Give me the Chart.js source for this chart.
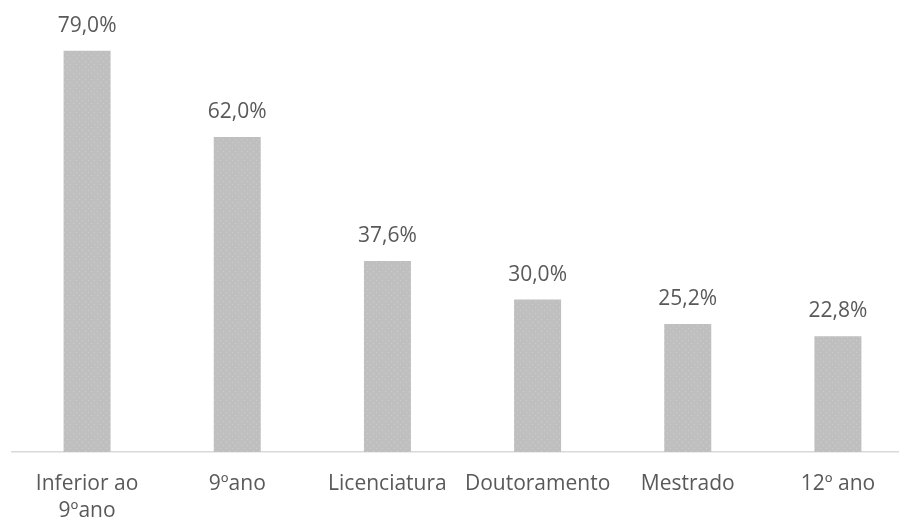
<!DOCTYPE html>
<html>
<head>
<meta charset="utf-8">
<script src="https://cdn.jsdelivr.net/npm/chart.js@4"></script>
<style>
  html, body { margin: 0; padding: 0; background: #fff; overflow: hidden; }
  #wrap { width: 913px; height: 520px; }
</style>
</head>
<body>
<div id="wrap"><canvas id="myChart" width="913" height="520"></canvas></div>
<script>
const categories = [['Inferior ao', '9ºano'], '9ºano', 'Licenciatura', 'Doutoramento', 'Mestrado', '12º ano'];
const values = [79.0, 62.0, 37.6, 30.0, 25.2, 22.8];

function dotPattern() {
    const c = document.createElement('canvas');
    c.width = 6;
    c.height = 6;
    const g = c.getContext('2d');
    g.fillStyle = '#bfbfbf';
    g.fillRect(0, 0, 6, 6);
    g.fillStyle = '#cdcdcd';
    g.fillRect(1, 1, 1, 1);
    g.fillRect(4, 4, 1, 1);
    return g.createPattern(c, 'repeat');
}

const valueLabels = {
    id: 'valueLabels',
    afterDatasetsDraw(chart) {
        const ctx = chart.ctx;
        const meta = chart.getDatasetMeta(0);
        ctx.save();
        ctx.font = '21px "Open Sans", sans-serif';
        ctx.fillStyle = '#595959';
        ctx.textAlign = 'center';
        ctx.textBaseline = 'middle';
        meta.data.forEach((bar, i) => {
            ctx.fillText(values[i].toFixed(1).replace('.', ',') + '%', bar.x, bar.y - 25);
        });
        ctx.restore();
    }
};

function renderChart() {
    const ctx = document.getElementById('myChart');
    new Chart(ctx, {
        type: 'bar',
        data: {
            labels: categories,
            datasets: [{
                data: values,
                backgroundColor: dotPattern(),
                borderWidth: 0,
                categoryPercentage: 1,
                barPercentage: 0.313
            }]
        },
        options: {
            responsive: false,
            animation: false,
            layout: { padding: { left: 12, right: 0, top: 5, bottom: 0 } },
            plugins: { legend: { display: false }, tooltip: { enabled: false } },
            scales: {
                x: {
                    grid: { display: false, drawTicks: false },
                    border: { color: '#d9d9d9', width: 1.5 },
                    ticks: {
                        color: '#595959',
                        font: { family: '"Open Sans", sans-serif', size: 21, lineHeight: 1.3 },
                        padding: 18,
                        maxRotation: 0,
                        autoSkip: false
                    },
                    afterFit(scale) { scale.height = 68; }
                },
                y: {
                    display: false,
                    min: 0,
                    max: 88
                }
            }
        },
        plugins: [valueLabels]
    });
}

renderChart();
</script>
</body>
</html>
